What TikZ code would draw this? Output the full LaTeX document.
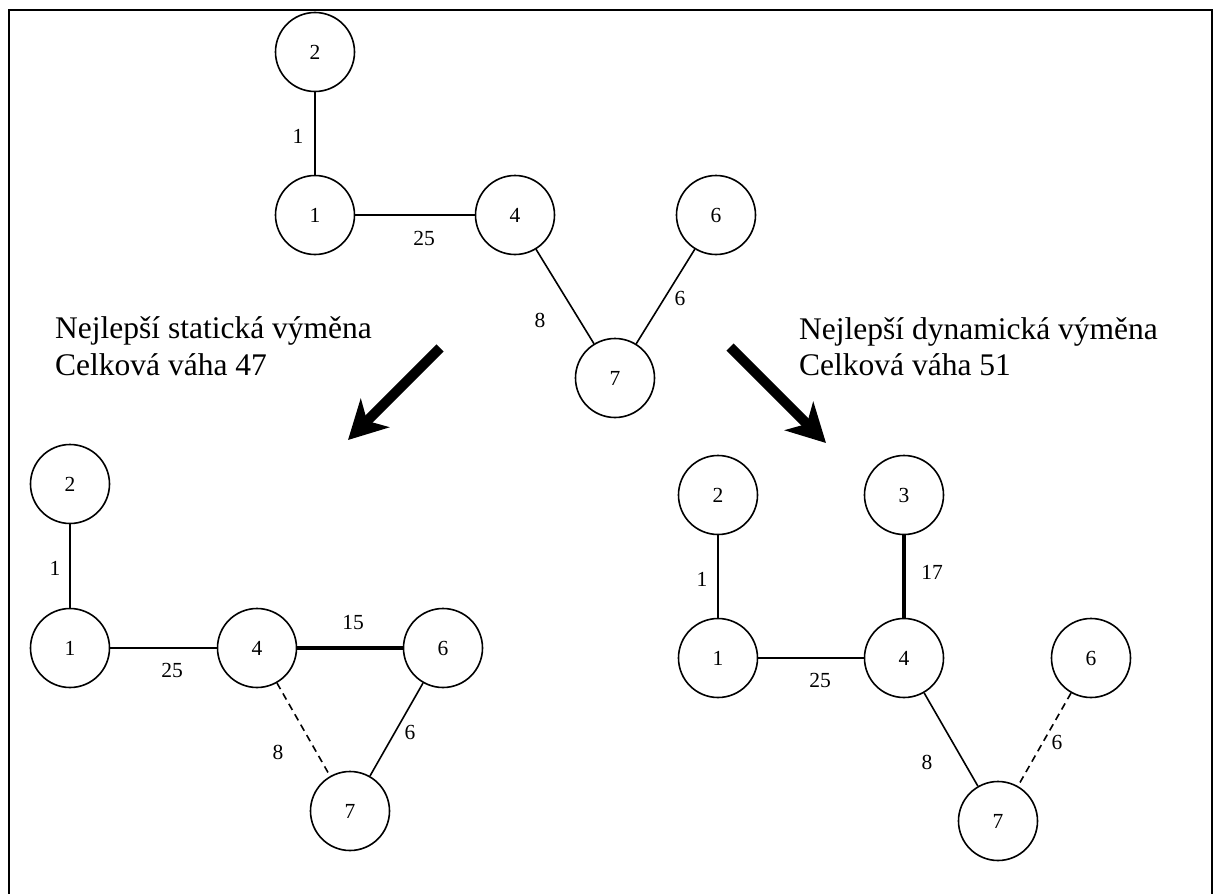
\documentclass[tikz,border=0pt]{standalone}
\usepackage{fontspec}
\setmainfont{Liberation Serif}
\usetikzlibrary{arrows.meta}
\tikzset{
  vert/.style={draw, circle, line width=1.6pt, minimum size=79pt, inner sep=0pt,
    font=\fontsize{21.5}{24}\selectfont},
  edg/.style={line width=1.6pt},
  heavy/.style={line width=4.5pt},
  dashedge/.style={line width=1.6pt, dash pattern=on 7pt off 5pt},
  wlabel/.style={font=\fontsize{21.5}{24}\selectfont, inner sep=0pt},
  bigtext/.style={font=\fontsize{31.5}{36}\selectfont, anchor=base west, inner sep=0pt},
  bigarrow/.style={line width=10pt, -{Stealth[length=38pt, width=40pt, inset=11pt]}},
}
\begin{document}
\begin{tikzpicture}[x=1pt, y=-1pt]
\useasboundingbox (0,0) rectangle (1219,894);
% open frame
\draw[line width=2pt] (9,894) -- (9,10) -- (1212,10) -- (1212,894);

% original spanning tree
\node[vert] (a2) at (315,52) {2};
\node[vert] (a1) at (315,215) {1};
\node[vert] (a4) at (515,215) {4};
\node[vert] (a6) at (716,215) {6};
\node[vert] (a7) at (615,378) {7};
\draw[edg] (a2) -- (a1);
\draw[edg] (a1) -- (a4);
\draw[edg] (a4) -- (a7);
\draw[edg] (a6) -- (a7);
\node[wlabel] (la21) at (298,136) {1};
\node[wlabel] (la14) at (424,238) {25};
\node[wlabel] (la47) at (540,320) {8};
\node[wlabel] (la67) at (680,298) {6};

% captions
\node[bigtext] (capL1) at (55,338) {Nejlepší statická výměna};
\node[bigtext] (capL2) at (55,375) {Celková váha 47};
\node[bigtext] (capR1) at (799,339) {Nejlepší dynamická výměna};
\node[bigtext] (capR2) at (799,375) {Celková váha 51};

% transition arrows
\coordinate (arLs) at (440,348);
\coordinate (arLe) at (348,440);
\coordinate (arRs) at (730,347);
\coordinate (arRe) at (826,443);
\draw[bigarrow] (arLs) -- (arLe);
\draw[bigarrow] (arRs) -- (arRe);

% static exchange result
\node[vert] (b2) at (70,484) {2};
\node[vert] (b1) at (70,648) {1};
\node[vert] (b4) at (257,648) {4};
\node[vert] (b6) at (443,648) {6};
\node[vert] (b7) at (350,811) {7};
\draw[edg] (b2) -- (b1);
\draw[edg] (b1) -- (b4);
\draw[heavy] (b4) -- (b6);
\draw[dashedge] (b4) -- (b7);
\draw[edg] (b6) -- (b7);
\node[wlabel] (lb21) at (55,568) {1};
\node[wlabel] (lb14) at (172,670) {25};
\node[wlabel] (lb46) at (353,623) {15};
\node[wlabel] (lb47) at (278,752) {8};
\node[wlabel] (lb67) at (410,732) {6};

% dynamic exchange result
\node[vert] (c2) at (718,495) {2};
\node[vert] (c3) at (904,495) {3};
\node[vert] (c1) at (718,658) {1};
\node[vert] (c4) at (904,658) {4};
\node[vert] (c6) at (1091,658) {6};
\node[vert] (c7) at (998,821) {7};
\draw[edg] (c2) -- (c1);
\draw[heavy] (c3) -- (c4);
\draw[edg] (c1) -- (c4);
\draw[edg] (c4) -- (c7);
\draw[dashedge] (c6) -- (c7);
\node[wlabel] (lc21) at (702,579) {1};
\node[wlabel] (lc34) at (932,572) {17};
\node[wlabel] (lc14) at (820,680) {25};
\node[wlabel] (lc47) at (927,762) {8};
\node[wlabel] (lc67) at (1057,742) {6};
\end{tikzpicture}
\end{document}
